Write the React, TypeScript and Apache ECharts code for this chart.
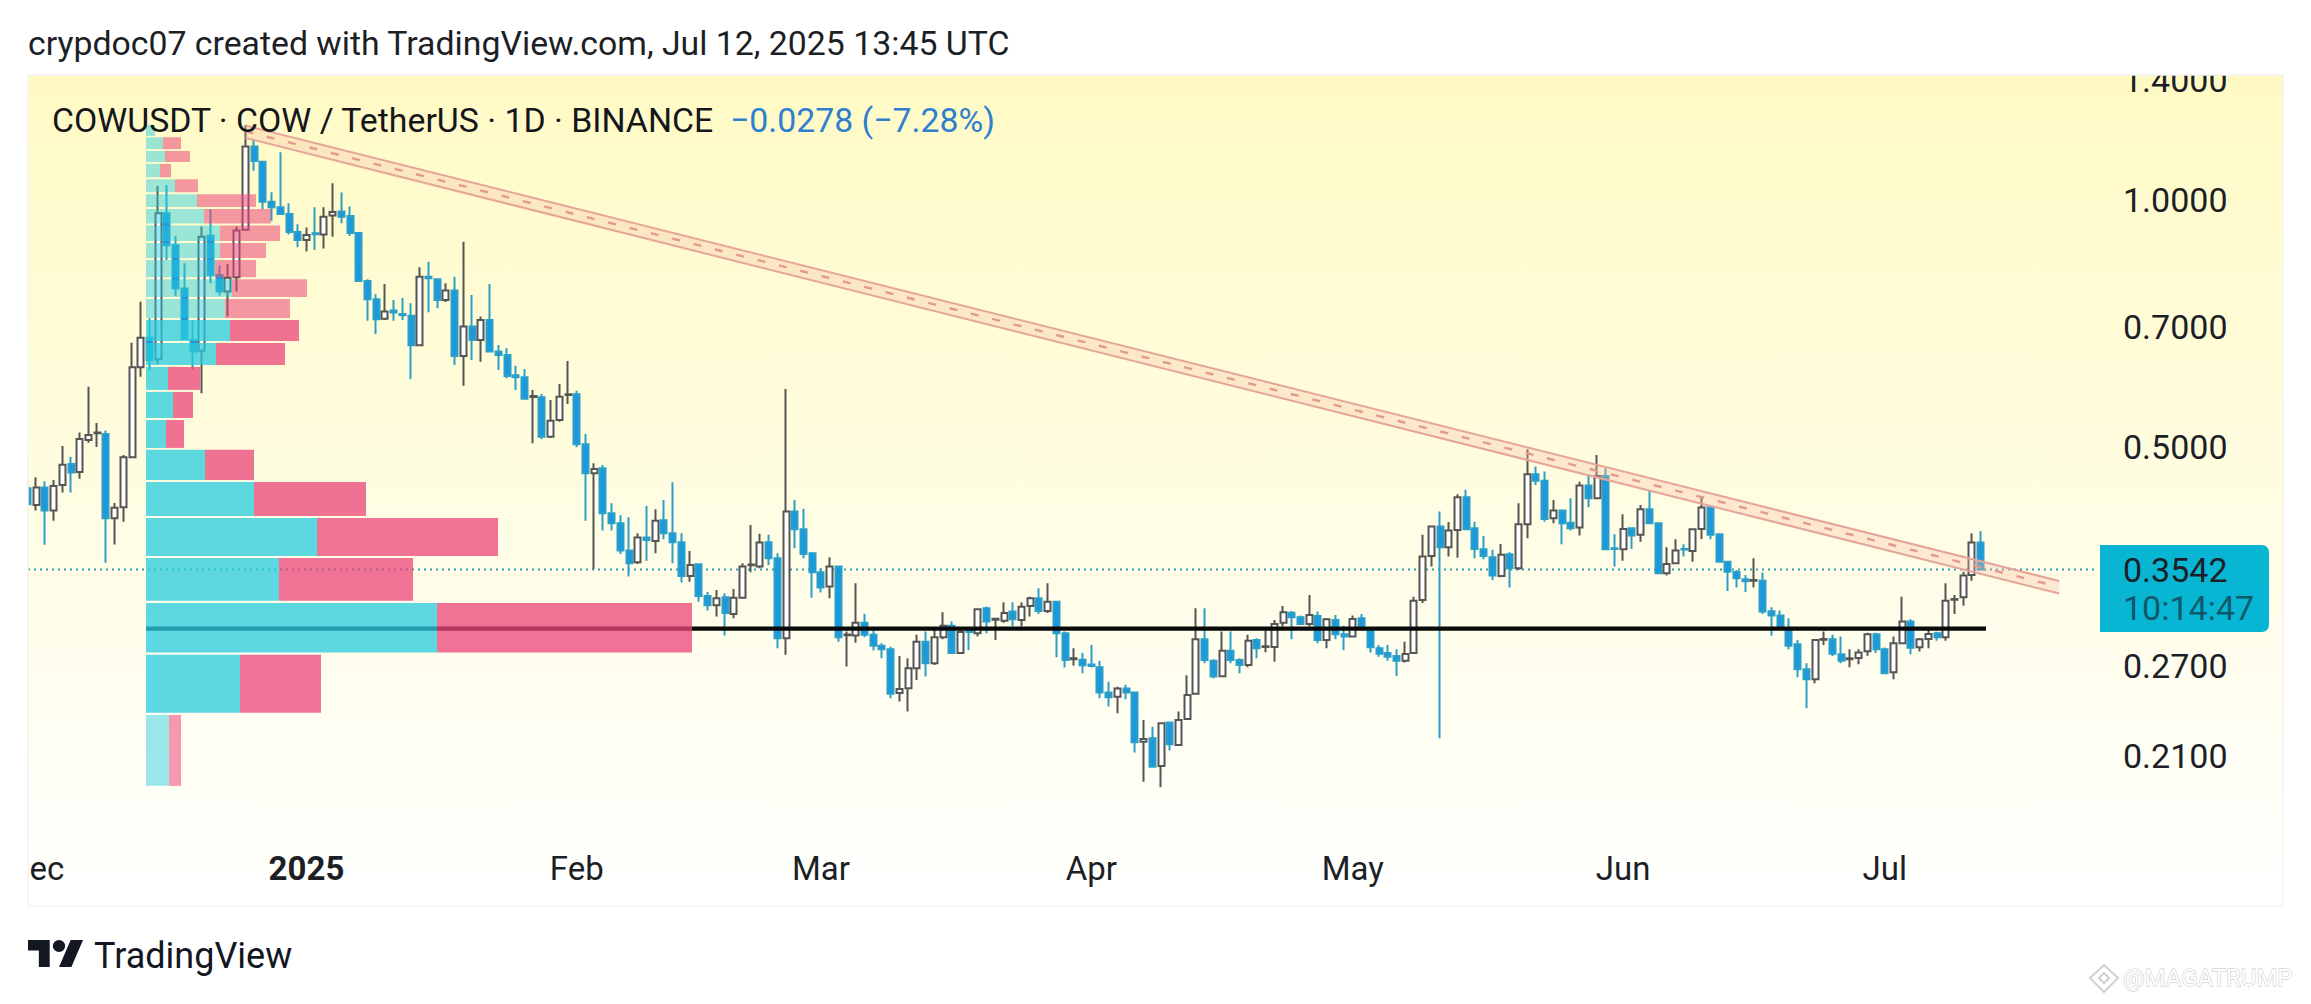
import React, { useEffect, useRef } from "react";
import * as echarts from "echarts";

const FONT = "Roboto, sans-serif";

// one row per trading day: open, close, low, high
const candles: number[][] = [
  [.4451,.4255,.4245,.4576],[.4247,.4459,.4180,.4590],[.4459,.4180,.3796,.4538],[.4180,.4480,.4062,.4554],[.4492,.4755,.4396,.5012],
  [.4764,.4650,.4396,.4863],[.4659,.5111,.4571,.5203],[.5096,.5169,.5058,.5920],[.5192,.5206,.4998,.5346],[.5184,.4090,.3611,.5233],
  [.4090,.4212,.3799,.4271],[.4220,.4855,.4051,.4887],[.4855,.6252,.4845,.6699],[.6252,.6794,.6089,.7516],[.6794,.6380,.6194,.7174],
  [.6393,.9637,.6310,1.0405],[.9637,.8808,.8449,1.0433],[.8808,.7797,.7638,.9040],[.7797,.6763,.6749,.8373],[.6749,.6534,.6205,.7139],
  [.6546,.9022,.5812,.9281],[.9048,.8103,.7915,.9746],[.8103,.7732,.7645,.8317],[.7732,.8040,.7207,.8357],[.8049,.9178,.7732,.9281],
  [.9196,1.1619,.9176,1.2348],[1.1619,1.1158,1.0853,1.1835],[1.1137,.9954,.9746,1.1158],[.9954,.9801,.9436,1.0223],[.9801,.9618,.9591,1.1438],
  [.9618,.9140,.9077,.9910],[.9140,.8937,.8759,.9343],[.8937,.9066,.8652,.9255],[.9111,.9084,.8693,.9801],[.9077,.9544,.8725,.9801],
  [.9571,.9672,.9022,1.0483],[.9680,.9544,.9369,1.0211],[.9563,.9114,.9040,.9817],[.9114,.7965,.7955,.9130],[.7965,.7566,.7125,.8003],
  [.7566,.7153,.6866,.7675],[.7166,.7310,.7139,.7900],[.7330,.7289,.7125,.7551],[.7261,.7235,.7139,.7595],[.7227,.6651,.6049,.7483],
  [.6651,.8063,.6631,.8280],[.8063,.8026,.7298,.8410],[.8003,.7551,.7380,.8026],[.7551,.7754,.7510,.7915],[.7754,.6454,.6293,.8063],
  [.6454,.7008,.5937,.8896],[.7008,.6749,.6380,.7660],[.6749,.7139,.6350,.7207],[.7139,.6534,.6528,.7900],[.6534,.6472,.6205,.6657],
  [.6472,.6101,.6061,.6595],[.6113,.6078,.5866,.6280],[.6078,.5723,.5718,.6222],[.5750,.5765,.5050,.5866],[.5747,.5144,.5106,.5800],
  [.5144,.5380,.5125,.5702],[.5390,.5756,.5365,.5965],[.5781,.5797,.5640,.6362],[.5796,.5036,.4994,.5854],[.5036,.4642,.4062,.5184],
  [.4642,.4698,.3548,.4773],[.4707,.4149,.3951,.4751],[.4149,.4033,.3951,.4267],[.4033,.3736,.3701,.4129],[.3736,.3605,.3472,.4102],
  [.3615,.3874,.3598,.3922],[.3874,.3848,.3631,.4235],[.3838,.4062,.3708,.4196],[.4067,.3922,.3856,.4306],[.3922,.3824,.3605,.4525],
  [.3824,.3479,.3414,.3922],[.3479,.3588,.3423,.3732],[.3595,.3289,.3236,.3605],[.3289,.3204,.3157,.3326],[.3204,.3267,.3103,.3345],
  [.3276,.3134,.2942,.3314],[.3125,.3273,.3089,.3354],[.3273,.3571,.3270,.3605],[.3584,.3592,.3515,.4015],[.3571,.3820,.3555,.3915],
  [.3824,.3656,.3588,.3904],[.3656,.2920,.2840,.3708],[.2920,.4168,.2787,.5882],[.4168,.3967,.3761,.4306],[.3967,.3701,.3656,.4200],
  [.3708,.3515,.3273,.3720],[.3515,.3367,.3320,.3555],[.3376,.3571,.3267,.3666],[.3571,.2929,.2892,.3580],[.2945,.2952,.2697,.2975],
  [.2942,.3051,.2884,.3408],[.3051,.2948,.2929,.3125],[.2948,.2860,.2822,.3007],[.2860,.2832,.2761,.2880],[.2832,.2498,.2467,.2852],
  [.2504,.2533,.2444,.2779],[.2538,.2685,.2377,.2760],[.2685,.2892,.2597,.2948],[.2892,.2722,.2622,.2975],[.2722,.2929,.2709,.3004],
  [.2929,.3024,.2912,.3142],[.3024,.2801,.2793,.3060],[.2801,.2971,.2795,.3004],[.3004,.2971,.2826,.3012],[.2962,.3168,.2934,.3177],
  [.3177,.3060,.2962,.3192],[.3076,.3084,.2906,.3089],[.3068,.3134,.3051,.3230],[.3149,.3080,.3018,.3230],[.3074,.3191,.3018,.3230],
  [.3198,.3267,.3103,.3282],[.3267,.3153,.3125,.3361],[.3153,.3236,.3134,.3408],[.3236,.2962,.2769,.3245],[.2962,.2747,.2689,.2975],
  [.2753,.2761,.2704,.2840],[.2749,.2707,.2647,.2801],[.2712,.2702,.2689,.2866],[.2692,.2507,.2467,.2742],[.2507,.2474,.2410,.2585],
  [.2478,.2535,.2365,.2549],[.2535,.2507,.2460,.2562],[.2507,.2180,.2118,.2515],[.2184,.2200,.1951,.2321],[.2205,.2036,.2034,.2278],
  [.2040,.2300,.1921,.2304],[.2304,.2168,.2130,.2310],[.2164,.2321,.2158,.2377],[.2328,.2490,.2324,.2632],[.2498,.2912,.2492,.3177],
  [.2912,.2747,.2722,.3177],[.2742,.2622,.2610,.2752],[.2625,.2820,.2620,.2975],[.2820,.2747,.2722,.2975],[.2747,.2709,.2647,.2760],
  [.2709,.2900,.2692,.2948],[.2906,.2840,.2760,.2920],[.2849,.2856,.2808,.2990],[.2849,.3040,.2734,.3074],[.3051,.3142,.3018,.3198],
  [.3138,.3098,.2912,.3153],[.3098,.3040,.3032,.3112],[.3040,.3118,.3018,.3298],[.3109,.2906,.2880,.3148],[.2906,.3080,.2840,.3092],
  [.3074,.2954,.2912,.3118],[.2954,.2934,.2826,.3024],[.2934,.3083,.2931,.3112],[.3089,.2996,.2984,.3127],[.2984,.2848,.2805,.2990],
  [.2840,.2795,.2773,.2866],[.2801,.2773,.2742,.2866],[.2779,.2742,.2627,.2832],[.2742,.2794,.2727,.2892],[.2801,.3245,.2799,.3282],
  [.3251,.3673,.3224,.3904],[.3680,.3996,.3571,.4003],[.3996,.3771,.2205,.4168],[.3771,.3951,.3673,.4048],[.3959,.4339,.3662,.4377],
  [.4339,.3967,.3965,.4430],[.3978,.3753,.3656,.4051],[.3750,.3680,.3645,.3892],[.3666,.3482,.3439,.3743],[.3479,.3691,.3466,.3806],
  [.3698,.3555,.3367,.3719],[.3555,.4022,.3538,.4267],[.4022,.4629,.3867,.4966],[.4629,.4545,.4492,.4729],[.4545,.4082,.4051,.4664],
  [.4090,.4180,.4033,.4306],[.4180,.4033,.3803,.4190],[.4040,.3978,.3951,.4326],[.3985,.4484,.3896,.4533],[.4484,.4326,.4220,.4607],
  [.4326,.4607,.4323,.4887],[.4607,.3750,.3748,.4707],[.3761,.3753,.3571,.3911],[.3750,.3970,.3631,.4137],[.3978,.3896,.3753,.3985],
  [.3904,.4196,.3830,.4247],[.4196,.4033,.4031,.4421],[.4033,.3506,.3500,.4040],[.3506,.3598,.3482,.3771],[.3605,.3736,.3598,.3856],
  [.3753,.3747,.3673,.3803],[.3732,.3967,.3621,.3970],[.3970,.4215,.3859,.4339],[.4220,.3904,.3856,.4224],[.3911,.3621,.3615,.3918],
  [.3621,.3521,.3335,.3626],[.3518,.3456,.3367,.3538],[.3446,.3427,.3326,.3489],[.3431,.3439,.3367,.3656],[.3433,.3148,.3127,.3513],
  [.3151,.3112,.2940,.3186],[.3112,.3013,.2990,.3157],[.2990,.2860,.2832,.3089],[.2872,.2677,.2617,.2906],[.2677,.2602,.2399,.2722],
  [.2602,.2906,.2574,.2910],[.2908,.2915,.2866,.2975],[.2912,.2795,.2779,.2948],[.2792,.2742,.2722,.2934],[.2753,.2761,.2692,.2832],
  [.2763,.2805,.2715,.2832],[.2816,.2954,.2781,.2965],[.2954,.2832,.2801,.2965],[.2832,.2647,.2642,.2846],[.2655,.2880,.2602,.2934],
  [.2880,.3060,.2878,.3282],[.3060,.2844,.2792,.3080],[.2848,.2912,.2813,.2923],[.2914,.2956,.2840,.3013],[.2962,.2929,.2900,.2973],
  [.2929,.3245,.2900,.3408],[.3253,.3261,.3127,.3298],[.3276,.3482,.3200,.3521],[.3489,.3820,.3432,.3922],[.3820,.3542,.3537,.3948],
];

// volume profile: top price, bottom price, buy volume, sell volume, inside value area (1) or not (0)
const profileRows: number[][] = [
  [1.2348,1.1972,9,0,0],[1.1927,1.1535,17,18,0],[1.1476,1.1128,19,25,0],[1.1067,1.0661,14,11,0],
  [1.0599,1.0222,29,23,0],[1.0165,.9809,51,59,0],[.9754,.9359,58,67,0],[.9307,.8913,74,60,0],
  [.8864,.8498,74,46,0],[.8449,.8049,69,41,0],[.8003,.7616,86,75,0],[.7573,.7180,79,65,0],
  [.7139,.6731,84,69,1],[.6694,.6293,70,69,1],[.6258,.5866,22,32,1],[.5833,.5421,27,20,1],
  [.5390,.4984,20,18,1],[.4957,.4554,59,49,1],[.4529,.4117,108,112,1],[.4094,.3680,171,181,1],
  [.3659,.3245,133,134,1],[.3224,.2805,291,255,1],[.2787,.2368,94,81,1],[.2354,.1929,23,12,0],
];

const priceTicks = [1.4, 1.0, 0.7, 0.5, 0.27, 0.21];
const lastPrice = 0.3542;
const countdown = "10:14:47";
const supportLevel = 0.30;
const supportSpan = [0, 1840];
const trendStart = 25;
const trendEnd = 233;
const trendUpper = [1.2327, 0.3430];
const trendMiddle = [1.2126, 0.3373];
const trendLower = [1.1905, 0.3311];
const monthLabels: Record<string, string> = {
  "2024-12-01": "Dec", "2025-01-01": "2025", "2025-02-01": "Feb", "2025-03-01": "Mar",
  "2025-04-01": "Apr", "2025-05-01": "May", "2025-06-01": "Jun", "2025-07-01": "Jul",
};
const titleText = "crypdoc07 created with TradingView.com, Jul 12, 2025 13:45 UTC";
const legendText = "COWUSDT · COW / TetherUS · 1D · BINANCE";
const legendChange = "−0.0278 (−7.28%)";

const categories: string[] = [];
for (let i = 0; i < 260; i++) {
  categories.push(new Date(Date.UTC(2024, 10, 30 + i)).toISOString().slice(0, 10));
}

const LOGO = "M14 22H7V11H0V4h14v18zM28 22h-8l7.5-18h8L28 22zM24 8a4 4 0 1 1-8 0 4 4 0 0 1 8 0z";
echarts.graphic.registerShape("tvlogo", echarts.graphic.extendPath(LOGO, {}) as any);

const GRID_LEFT = 23.06;
const GRID_W = 2267.2;
const PROFILE_X = 146;
const TOP = 1000;

function buildOption(): any {
  const white = (x: number, y: number, width: number, height: number) => ({
    type: "rect", z: TOP, shape: { x, y, width, height }, style: { fill: "#ffffff" }, silent: true,
  });
  const tickX = 1977;
  return {
    animation: false,
    backgroundColor: "#ffffff",
    grid: {
      show: true, left: GRID_LEFT, top: 75, width: GRID_W, height: 831, borderWidth: 0,
      backgroundColor: new echarts.graphic.LinearGradient(0, 0, 0, 1, [
        { offset: 0, color: "#fffac4" }, { offset: 1, color: "#ffffff" },
      ]),
    },
    xAxis: [
      {
        type: "category", data: categories, boundaryGap: true,
        axisLine: { show: false }, axisTick: { show: false }, splitLine: { show: false },
        axisLabel: {
          inside: true, margin: 21, fontFamily: FONT, fontSize: 33, color: "#1c1f26", hideOverlap: false,
          interval: (_: number, v: string) => !!monthLabels[v],
          formatter: (v: string) => (monthLabels[v] === "2025" ? "{b|2025}" : monthLabels[v] || ""),
          rich: { b: { fontFamily: FONT, fontSize: 33, fontWeight: "bold", color: "#1c1f26" } },
        },
      },
      { type: "value", show: false, min: -(PROFILE_X - GRID_LEFT), max: GRID_W - (PROFILE_X - GRID_LEFT), splitLine: { show: false } },
    ],
    yAxis: [{ type: "log", logBase: 10, show: false, min: 0.13765, max: 1.4207, splitLine: { show: false } }],
    series: [
      {
        type: "custom", name: "last price line", z: 1, xAxisIndex: 1, yAxisIndex: 0, data: [[0, lastPrice]],
        silent: true,
        renderItem: (_: any, api: any) => {
          const a = api.coord([-118, lastPrice]);
          const b = api.coord([1949, lastPrice]);
          return {
            type: "line", shape: { x1: a[0], y1: a[1], x2: b[0], y2: b[1] },
            style: { stroke: "#2c9fb2", lineWidth: 2, lineDash: [2, 4] },
          };
        },
      },
      {
        type: "candlestick", name: "COWUSDT", xAxisIndex: 0, yAxisIndex: 0, z: 2, barWidth: 6.5, data: candles,
        itemStyle: {
          color: "#ffffff", color0: "#1b98de", borderColor: "#555555", borderColor0: "#2aa0c8",
          borderColorDoji: "#555555", borderWidth: 2,
        },
      },
      {
        type: "custom", name: "trend channel", z: 3, xAxisIndex: 0, yAxisIndex: 0, data: [[trendStart, trendUpper[0]]],
        silent: true,
        renderItem: (_: any, api: any) => {
          const u0 = api.coord([trendStart, trendUpper[0]]), u1 = api.coord([trendEnd, trendUpper[1]]);
          const m0 = api.coord([trendStart, trendMiddle[0]]), m1 = api.coord([trendEnd, trendMiddle[1]]);
          const l0 = api.coord([trendStart, trendLower[0]]), l1 = api.coord([trendEnd, trendLower[1]]);
          const edge = { stroke: "#e6a598", lineWidth: 2 };
          return {
            type: "group",
            children: [
              { type: "polygon", shape: { points: [u0, u1, l1, l0] }, style: { fill: "rgba(250,190,165,0.32)" } },
              { type: "line", shape: { x1: u0[0], y1: u0[1], x2: u1[0], y2: u1[1] }, style: edge },
              { type: "line", shape: { x1: l0[0], y1: l0[1], x2: l1[0], y2: l1[1] }, style: edge },
              { type: "line", shape: { x1: m0[0], y1: m0[1], x2: m1[0], y2: m1[1] }, style: { stroke: "#e29a8c", lineWidth: 2.4, lineDash: [8, 14] } },
            ],
          };
        },
      },
      {
        type: "custom", name: "support", z: 4, xAxisIndex: 1, yAxisIndex: 0, data: [[0, supportLevel]],
        silent: true,
        renderItem: (_: any, api: any) => {
          const a = api.coord([supportSpan[0], supportLevel]);
          const b = api.coord([supportSpan[1], supportLevel]);
          return {
            type: "line", shape: { x1: a[0], y1: a[1], x2: b[0], y2: b[1] },
            style: { stroke: "#0b0b0b", lineWidth: 4.4 },
          };
        },
      },
      {
        type: "custom", name: "volume profile", z: 5, xAxisIndex: 1, yAxisIndex: 0, silent: true,
        data: profileRows.map((r) => [r[2], r[0]]),
        renderItem: (p: any, api: any) => {
          const r = profileRows[p.dataIndex];
          const tl = api.coord([0, r[0]]);
          const tm = api.coord([r[2], r[0]]);
          const te = api.coord([r[2] + r[3], r[0]]);
          const bl = api.coord([0, r[1]]);
          const h = bl[1] - tl[1];
          const strong = r[4] === 1;
          return {
            type: "group",
            children: [
              { type: "rect", shape: { x: tl[0], y: tl[1], width: tm[0] - tl[0], height: h }, style: { fill: strong ? "rgba(41,203,222,0.757)" : "rgba(41,203,222,0.47)" } },
              { type: "rect", shape: { x: tm[0], y: tl[1], width: te[0] - tm[0], height: h }, style: { fill: strong ? "rgba(235,69,121,0.757)" : "rgba(235,69,121,0.55)" } },
            ],
          };
        },
      },
      {
        type: "custom", name: "price ticks", z: 6, xAxisIndex: 1, yAxisIndex: 0, silent: true,
        data: priceTicks.map((t) => [tickX, t]),
        renderItem: (p: any, api: any) => {
          const t = priceTicks[p.dataIndex];
          const c = api.coord([tickX, t]);
          return {
            type: "text", x: c[0], y: c[1],
            style: { text: t.toFixed(4), fontFamily: FONT, fontSize: 34, fill: "#1c1f26", verticalAlign: "middle" },
          };
        },
      },
      {
        type: "custom", name: "price tag", z: 7, xAxisIndex: 1, yAxisIndex: 0, silent: true,
        data: [[tickX, lastPrice]],
        renderItem: (_: any, api: any) => {
          const c = api.coord([tickX, lastPrice]);
          return {
            type: "group",
            children: [
              { type: "rect", shape: { x: c[0] - 23, y: c[1] - 24.5, width: 169, height: 87, r: [0, 7, 7, 0] }, style: { fill: "#08b6d4" } },
              { type: "text", x: c[0], y: c[1], style: { text: lastPrice.toFixed(4), fontFamily: FONT, fontSize: 34, fill: "#1c1f26", verticalAlign: "middle" } },
              { type: "text", x: c[0], y: c[1] + 38, style: { text: countdown, fontFamily: FONT, fontSize: 34, fill: "#0e5a6c", verticalAlign: "middle" } },
            ],
          };
        },
      },
    ],
    graphic: {
      elements: [
        white(0, 0, 28, 1004), white(0, 0, 2311, 75), white(2283, 0, 28, 1004), white(0, 906, 2311, 98),
        { type: "rect", z: TOP + 1, shape: { x: 28, y: 75, width: 2255, height: 831 }, style: { fill: "transparent", stroke: "#f3f3f3", lineWidth: 1.5 }, silent: true },
        { type: "text", z: TOP + 1, x: 28, y: 43, style: { text: titleText, fontFamily: FONT, fontSize: 33.8, fill: "#1c1f26", verticalAlign: "middle" } },
        { type: "text", z: TOP + 1, x: 52, y: 120, style: { text: legendText, fontFamily: FONT, fontSize: 33.8, fill: "#14161c", verticalAlign: "middle" } },
        { type: "text", z: TOP + 1, x: 730, y: 120, style: { text: legendChange, fontFamily: FONT, fontSize: 33.8, fill: "#2e7fd0", verticalAlign: "middle" } },
        { type: "tvlogo", z: TOP + 1, x: 28, y: 934, scaleX: 1.55, scaleY: 1.5, style: { fill: "#131722" } },
        { type: "text", z: TOP + 1, x: 94, y: 956, style: { text: "TradingView", fontFamily: FONT, fontSize: 36, fill: "#131722", verticalAlign: "middle" } },
        { type: "polygon", z: TOP + 1, shape: { points: [[2104, 965], [2118, 978], [2104, 992], [2090, 978]] }, style: { fill: "#ffffff", stroke: "#d0d0d0", lineWidth: 2 }, silent: true },
        { type: "polygon", z: TOP + 1, shape: { points: [[2104, 973], [2109, 978], [2104, 983], [2099, 978]] }, style: { fill: "#ffffff", stroke: "#d0d0d0", lineWidth: 2 }, silent: true },
        { type: "text", z: TOP + 1, x: 2123, y: 978, style: { text: "@MAGATRUMP", fontFamily: FONT, fontSize: 24, fill: "#ffffff", stroke: "#c4c4c4", lineWidth: 1, verticalAlign: "middle" } },
      ],
    },
  };
}

export default function App() {
  const ref = useRef<HTMLDivElement>(null);
  useEffect(() => {
    if (!ref.current) return;
    const chart = echarts.init(ref.current, undefined, { renderer: "svg" });
    chart.setOption(buildOption());
    return () => chart.dispose();
  }, []);
  return <div ref={ref} style={{ position: "fixed", left: 0, top: 0, width: 2311, height: 1004, background: "#fff" }} />;
}
